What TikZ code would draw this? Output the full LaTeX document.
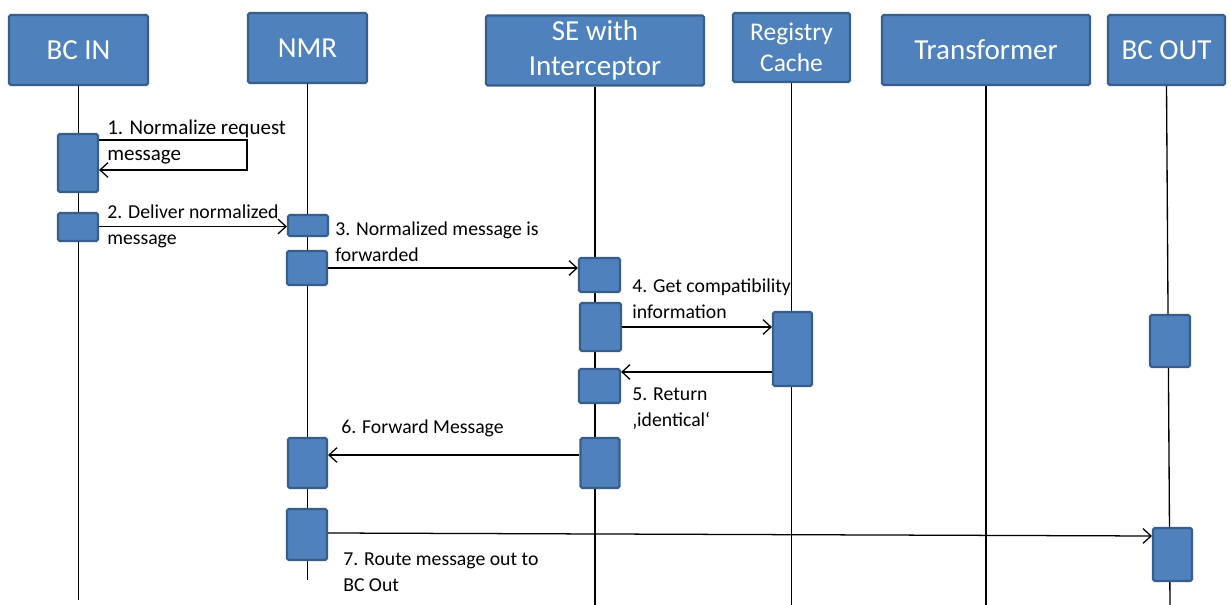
\documentclass[tikz,border=0pt]{standalone}
\usepackage{fontspec}
\setmainfont{Carlito}
\usetikzlibrary{arrows.meta}
\definecolor{boxfill}{RGB}{79,129,189}
\definecolor{boxline}{RGB}{56,93,138}
\begin{document}
\begin{tikzpicture}[x=0.75pt,y=-0.75pt,
  box/.style={fill=boxfill,draw=boxline,line width=1.6pt,rounded corners=1.2pt,inner sep=0pt},
  head/.style 2 args={box,minimum width=#1*0.75pt,minimum height=#2*0.75pt,
    text=white,align=center,font=\fontsize{21.75}{26.5}\selectfont},
  act/.style 2 args={box,minimum width=#1*0.75pt,minimum height=#2*0.75pt},
  life/.style={line width=1pt},
  msg/.style={line width=0.95pt,-{Straight Barb[length=6pt,width=11pt,line width=0.95pt]}},
  % labels are placed by the baseline of their last line
  lbl/.style={anchor=base west,align=left,inner sep=0pt,
    font=\fontsize{14.8}{19.2}\selectfont}]
\useasboundingbox (0,0) rectangle (1231,605);

% participants
\node[head={139}{70}] (inH)  at (78.5,50)  {BC IN};
\node[head={119}{70}] (nmrH) at (307.5,48) {NMR};
\node[head={218}{70}] (seH)  at (595,50.5) {SE with\\Interceptor};
\node[head={117}{69},font=\fontsize{19.1}{23.3}\selectfont] (regH) at (791.5,47.5) {Registry\\Cache};
\node[head={208}{70}] (trH)  at (986,50)   {Transformer};
\node[head={117}{70}] (outH) at (1166.5,50) {BC OUT};

% lifelines
\draw[life] (inH.south)  -- (inH.south |- 0,600);
\draw[life] (nmrH.south) -- (nmrH.south |- 0,580);
\draw[life] (seH.south)  -- (seH.south |- 0,605);
\draw[life] (regH.south) -- (regH.south |- 0,605);
\draw[life] (trH.south)  -- (trH.south |- 0,605);
\draw[life] (outH.south) -- (1170,605);

% activation bars
\node[act={40}{58}] (in1)  at (78,163)     {};
\node[act={40}{28}] (in2)  at (78,227)     {};
\node[act={40}{21}] (nmr1) at (308,225.5)  {};
\node[act={40}{34}] (nmr2) at (307,268)    {};
\node[act={39}{50}] (nmr3) at (307.5,463)  {};
\node[act={40}{51}] (nmr4) at (307,534.5)  {};
\node[act={41}{34}] (se1)  at (599.5,275)  {};
\node[act={41}{48}] (se2)  at (600.5,327)  {};
\node[act={41}{34}] (se3)  at (599.5,386)  {};
\node[act={39}{50}] (se4)  at (600,463)    {};
\node[act={39}{74}] (reg)  at (792.5,349)  {};
\node[act={40}{52}] (out1) at (1170,341)   {};
\node[act={39}{53}] (out2) at (1172.5,554.5) {};

% messages
\coordinate (loopA) at (247,140);
\coordinate (loopB) at (247,170);
\draw[msg] (in1.east |- loopA) -- (loopA) -- (loopB) -- (in1.east |- loopB);
\draw[msg] (in2.east |- 0,226.5) -- (nmr1.west |- 0,226.5);
\draw[msg] (nmr2.east |- 0,268) -- (se1.west |- 0,268);
\draw[msg] (se2.east |- 0,327) -- (reg.west |- 0,327);
\draw[msg] (reg.west |- 0,372) -- (se3.east |- 0,372);
\draw[msg] (se4.west |- 0,455) -- (nmr3.east |- 0,455);
\draw[msg] (nmr4.east |- 0,533) -- (out2.west |- 0,536);

% message labels
\node[lbl,font=\fontsize{15.75}{19.2}\selectfont] (t1) at (107,160.6) {1. Normalize request\\message};
\node[lbl] (t2) at (107,244.1) {2. Deliver normalized\\message};
\node[lbl] (t3) at (335,261.1) {3. Normalized message is\\forwarded};
\node[lbl] (t4) at (632,318.1) {4. Get compatibility\\information};
\node[lbl] (t5) at (632,426.1) {5. Return\\‚identical‘};
\node[lbl] (t6) at (341,433.5) {6. Forward Message};
\node[lbl] (t7) at (343,591.1) {7. Route message out to\\BC Out};
\end{tikzpicture}
\end{document}
